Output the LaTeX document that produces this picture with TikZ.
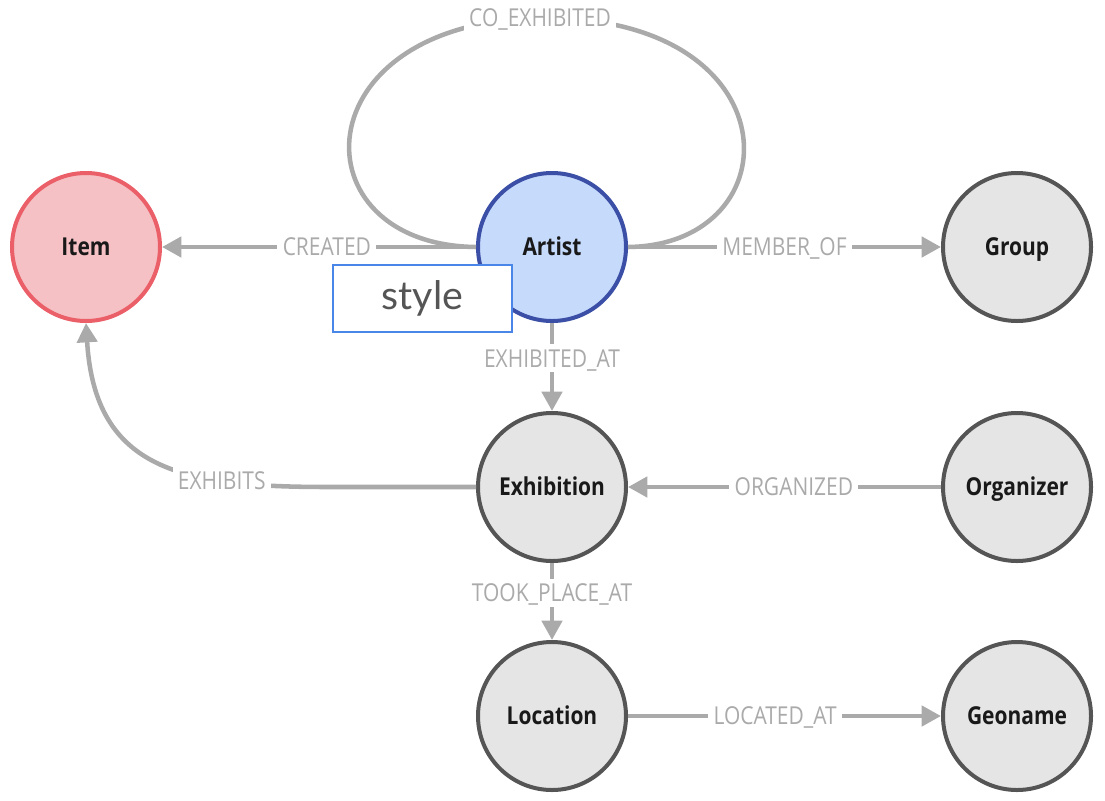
\documentclass[tikz,border=0pt]{standalone}
\usepackage{fontspec}
\setmainfont{Open Sans}
\newfontfamily\lblfont[FakeStretch=0.85]{Open Sans}
\newfontfamily\stylefont{Lato}
\usetikzlibrary{arrows.meta}
\definecolor{edgegray}{HTML}{AAAAAA}
\definecolor{nodefill}{HTML}{E5E5E5}
\definecolor{nodeborder}{HTML}{555555}
\definecolor{itemfill}{HTML}{F5C1C4}
\definecolor{itemborder}{HTML}{EB5F68}
\definecolor{artistfill}{HTML}{C6DAFC}
\definecolor{artistborder}{HTML}{3B4FA6}
\definecolor{styleborder}{HTML}{4A86E8}
\definecolor{styletext}{HTML}{555555}
\begin{document}
\begin{tikzpicture}[x=0.75pt,y=-0.75pt,
  ent/.style={circle, minimum size=111pt, inner sep=0pt, line width=3pt,
    draw=nodeborder, fill=nodefill, text=black!90,
    text height=13.2pt, text depth=0pt,
    font=\lblfont\bfseries\fontsize{18.5}{21}\selectfont},
  itement/.style={ent, draw=itemborder, fill=itemfill},
  artistent/.style={ent, draw=artistborder, fill=artistfill},
  rel/.style={draw=edgegray, line width=3.4pt, -{Triangle[length=14.5pt,width=15pt]}},
  loopedge/.style={draw=edgegray, line width=3.4pt},
  lab/.style={fill=white, text=edgegray, inner xsep=4pt, inner ysep=4pt,
    text height=13.2pt, text depth=0pt,
    font=\lblfont\fontsize{18.5}{21}\selectfont},
  stylebox/.style={draw=styleborder, fill=white, line width=1.2pt, text=styletext,
    minimum width=134pt, minimum height=50pt, inner sep=0pt,
    font=\stylefont\fontsize{29.5}{33}\selectfont}
]
\useasboundingbox (0,0) rectangle (1105,800);

\node[itement]   (item)       at (86,247)  {Item};
\node[artistent] (artist)     at (552,247) {Artist};
\node[ent]       (group)      at (1017,247) {Group};
\node[ent]       (exhibition) at (552,487) {Exhibition};
\node[ent]       (organizer)  at (1017,487) {Organizer};
\node[ent]       (location)   at (552,716) {Location};
\node[ent]       (geoname)    at (1017,716) {Geoname};

\draw[loopedge] (artist.west) .. controls (295,245) and (300,22) .. (540,18)
   node[lab] {CO\_EXHIBITED}
   .. controls (795,15) and (795,245) .. (artist.east);

\draw[rel] (artist.west) -- node[lab, pos=0.475] {CREATED} (item.east);
\draw[rel] (artist.east) -- node[lab, pos=0.5] {MEMBER\_OF} (group.west);
\draw[rel] (artist.south) -- node[lab, pos=0.4] {EXHIBITED\_AT} (exhibition.north);
\draw[rel] (organizer.west) -- node[lab, pos=0.47] {ORGANIZED} (exhibition.east);
\draw[rel] (exhibition.south) -- node[lab, pos=0.39] {TOOK\_PLACE\_AT} (location.north);
\draw[rel] (location.east) -- node[lab, pos=0.47] {LOCATED\_AT} (geoname.west);
\draw[rel] (exhibition.west) -- (330,487) .. controls (185,487) and (95,472) ..
   node[lab, pos=0.28] {EXHIBITS} (item.south);

\node[stylebox] (stylelabel) at (422.5,298.5) {style};
\end{tikzpicture}
\end{document}
